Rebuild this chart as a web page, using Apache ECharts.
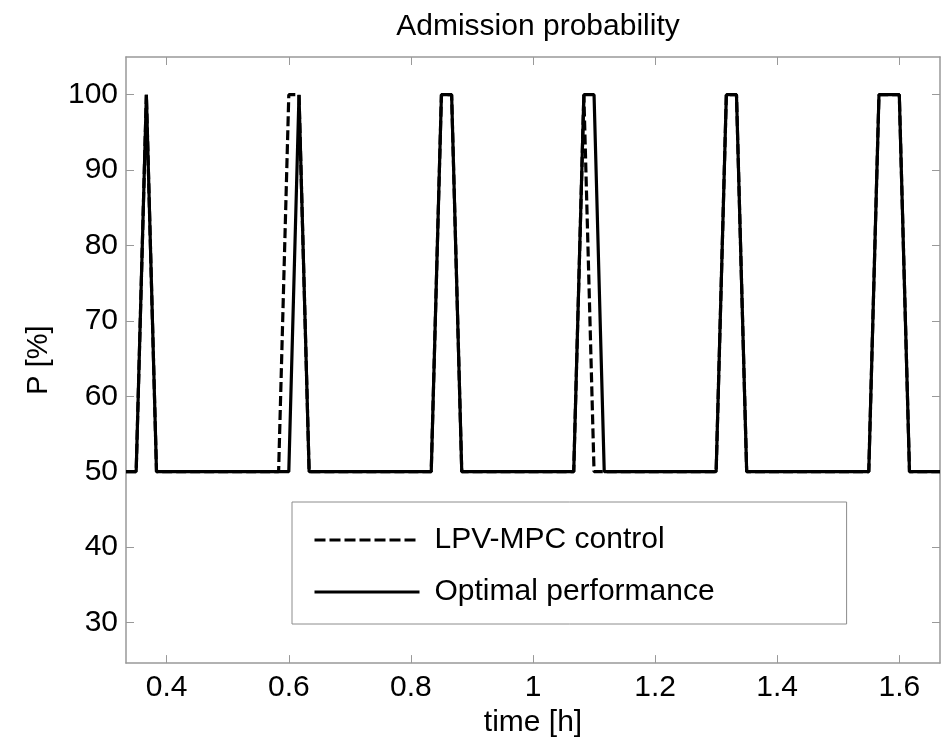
<!DOCTYPE html>
<html>
<head>
<meta charset="utf-8">
<script src="https://cdn.jsdelivr.net/npm/echarts@6/dist/echarts.min.js"></script>
<style>
html,body{margin:0;padding:0;background:#fff;}
#chart{width:950px;height:743px;}
</style>
</head>
<body>
<div id="chart"></div>
<script>
// time in hours
const mpcTime = [0.3333, 0.35, 0.3667, 0.3833, 0.5833, 0.6, 0.6167, 0.6333, 0.8333, 0.85, 0.8667, 0.8833, 1.0667, 1.0833, 1.1, 1.3, 1.3167, 1.3333, 1.35, 1.55, 1.5667, 1.6, 1.6167, 1.6667];
const mpcValues = [50, 50, 100, 50, 50, 100, 100, 50, 50, 100, 100, 50, 50, 100, 50, 50, 100, 100, 50, 50, 100, 100, 50, 50];
const optTime = [0.3333, 0.35, 0.3667, 0.3833, 0.6, 0.6167, 0.6333, 0.8333, 0.85, 0.8667, 0.8833, 1.0667, 1.0833, 1.1, 1.1167, 1.3, 1.3167, 1.3333, 1.35, 1.55, 1.5667, 1.6, 1.6167, 1.6667];
const optValues = [50, 50, 100, 50, 50, 100, 50, 50, 100, 100, 50, 50, 100, 100, 50, 50, 100, 100, 50, 50, 100, 100, 50, 50];
const xTicks = [0.4, 0.6, 0.8, 1.0, 1.2, 1.4, 1.6];
const yTicks = [30, 40, 50, 60, 70, 80, 90, 100];
const seriesNames = ['LPV-MPC control', 'Optimal performance'];
const titleText = 'Admission probability';
const xName = 'time [h]';
const yName = 'P [%]';

const FONT = '"Liberation Sans", Arial, sans-serif';
const axisGray = '#999999';
const xMin = 1/3, xMax = 5/3, yMin = 24.6, yMax = 105;

function zip(a, b){ return a.map((v, i) => [v, b[i]]); }

const chart = echarts.init(document.getElementById('chart'), null, {renderer: 'canvas'});
const tickCommon = {show: true, inside: true, length: 8, lineStyle: {color: axisGray, width: 1}};
chart.setOption({
  animation: false,
  backgroundColor: '#ffffff',
  title: {
    text: titleText, left: 533, top: 7, textAlign: 'center',
    textStyle: {fontFamily: FONT, fontSize: 30, fontWeight: 'normal', color: '#000'}
  },
  grid: {left: 126, right: 10, top: 57, bottom: 79, containLabel: false},
  legend: {
    data: [
      {name: seriesNames[0], lineStyle: {width: 3, type: [11, 4], color: '#000'}},
      {name: seriesNames[1], lineStyle: {width: 3, type: 'solid', color: '#000'}}
    ],
    orient: 'vertical',
    left: 292, top: 502,
    padding: [23, 132, 17, 21],
    itemWidth: 105, itemHeight: 30, itemGap: 22,
    borderColor: '#8c8c8c', borderWidth: 1,
    backgroundColor: '#ffffff',
    itemStyle: {color: 'rgba(0,0,0,0)', borderWidth: 0, opacity: 0},
    textStyle: {fontFamily: FONT, fontSize: 30, color: '#000', padding: [0, 0, 0, 10]},
    selectedMode: false
  },
  xAxis: [{
    type: 'value', min: xMin, max: xMax, position: 'bottom',
    axisLine: {show: true, onZero: false, lineStyle: {color: axisGray, width: 1.5}},
    axisTick: Object.assign({customValues: xTicks}, tickCommon),
    axisLabel: {customValues: xTicks, margin: 10, color: '#000', fontFamily: FONT, fontSize: 30,
      formatter: v => String(Math.round(v * 10) / 10)},
    splitLine: {show: false},
    name: xName, nameLocation: 'middle', nameGap: 38,
    nameTextStyle: {fontFamily: FONT, fontSize: 30, color: '#000'}
  }, {
    type: 'value', min: xMin, max: xMax, position: 'top',
    axisLine: {show: true, onZero: false, lineStyle: {color: axisGray, width: 1.5}},
    axisTick: Object.assign({customValues: xTicks}, tickCommon),
    axisLabel: {show: false}, splitLine: {show: false}
  }],
  yAxis: [{
    type: 'value', min: yMin, max: yMax, position: 'left',
    axisLine: {show: true, onZero: false, lineStyle: {color: axisGray, width: 1.5}},
    axisTick: Object.assign({customValues: yTicks}, tickCommon),
    axisLabel: {customValues: yTicks, margin: 8, color: '#000', fontFamily: FONT, fontSize: 30},
    splitLine: {show: false},
    name: yName, nameLocation: 'middle', nameGap: 73, nameRotate: 90,
    nameTextStyle: {fontFamily: FONT, fontSize: 29, color: '#000'}
  }, {
    type: 'value', min: yMin, max: yMax, position: 'right',
    axisLine: {show: true, onZero: false, lineStyle: {color: axisGray, width: 1.5}},
    axisTick: Object.assign({customValues: yTicks}, tickCommon),
    axisLabel: {show: false}, splitLine: {show: false}
  }],
  series: [{
    name: seriesNames[0], type: 'line', xAxisIndex: 0, yAxisIndex: 0,
    data: zip(mpcTime, mpcValues), symbol: 'none', showSymbol: false,
    lineStyle: {color: '#000', width: 3.2, type: [10, 4]},
    itemStyle: {color: '#000'}
  }, {
    name: seriesNames[1], type: 'line', xAxisIndex: 0, yAxisIndex: 0,
    data: zip(optTime, optValues), symbol: 'none', showSymbol: false,
    lineStyle: {color: '#000', width: 3.2, type: 'solid'},
    itemStyle: {color: '#000'}
  }]
});
</script>
</body>
</html>
